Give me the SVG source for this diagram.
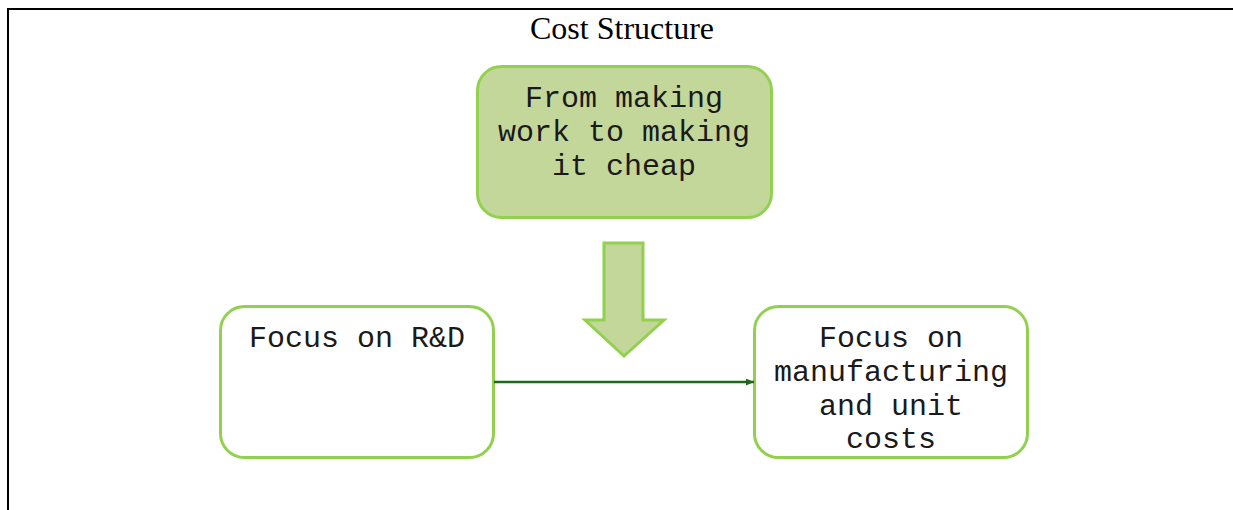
<svg xmlns="http://www.w3.org/2000/svg" width="1233" height="510" viewBox="0 0 1233 510">
<style>
.box{stroke:#92d050;stroke-width:3}
.t{font-family:"Liberation Mono","DejaVu Sans Mono",monospace;font-size:30px;fill:#1a1a1a;text-anchor:middle}
.title{font-family:"Liberation Serif","Times New Roman",serif;font-size:32px;fill:#000;text-anchor:middle}
</style>
<defs>
<marker id="ah" markerWidth="9" markerHeight="8" refX="8" refY="3.5" orient="auto" markerUnits="userSpaceOnUse">
<path d="M0,0 L8,3.5 L0,7 Z" fill="#1a6b1a"/>
</marker>
</defs>
<rect width="1233" height="510" fill="#fff"/>
<path d="M8,510 V9 H1233" fill="none" stroke="#000" stroke-width="2"/>
<text class="title" x="622" y="39">Cost Structure</text>
<g id="top">
<rect class="box" x="477.5" y="66.5" width="294" height="151" rx="24" fill="#c4d79b"/>
<text class="t" x="624" y="107">From making</text>
<text class="t" x="624" y="141">work to making</text>
<text class="t" x="624" y="175">it cheap</text>
</g>
<g id="bigarrow">
<path d="M604,243 H643 V320 H664 L624,356 L585,320 H604 Z" fill="#c4d79b" stroke="#92d050" stroke-width="3" stroke-linejoin="miter"/>
</g>
<g id="left">
<rect class="box" x="220.5" y="306.5" width="273" height="151" rx="24" fill="#fff"/>
<text class="t" x="357" y="347">Focus on R&amp;D</text>
</g>
<g id="right">
<rect class="box" x="754.5" y="306.5" width="273" height="151" rx="24" fill="#fff"/>
<text class="t" x="891" y="347">Focus on</text>
<text class="t" x="891" y="381">manufacturing</text>
<text class="t" x="891" y="415">and unit</text>
<text class="t" x="891" y="448">costs</text>
</g>
<g id="connectors">
<line x1="494" y1="382" x2="754" y2="382" stroke="#1a6b1a" stroke-width="2.5" marker-end="url(#ah)"/>
</g>
</svg>
